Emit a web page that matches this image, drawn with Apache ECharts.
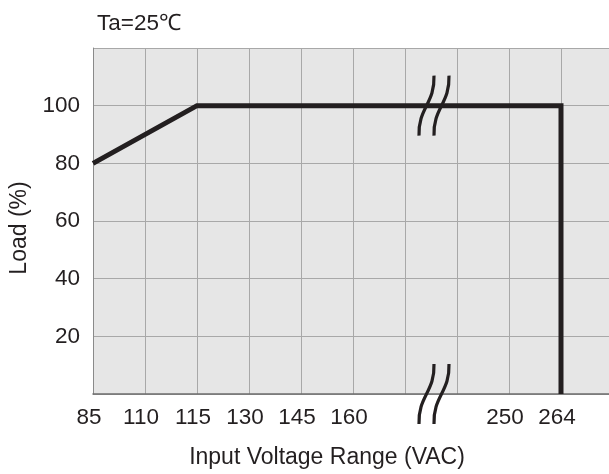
<!DOCTYPE html>
<html><head><meta charset="utf-8">
<script src="https://cdn.jsdelivr.net/npm/echarts@6/dist/echarts.min.js"></script>
<style>html,body{margin:0;padding:0;background:#fff;overflow:hidden}#c{width:613px;height:474px}</style>
</head><body><div id="c"></div>
<script>
const voltageLabels = ['85','110','115','130','145','160','','','250','264',''];
const loadTicks = [20, 40, 60, 80, 100];
const curveVoltage = ['85','115','264','264'];
const curveLoad = [80, 100, 100, 0];
const breakBetween = [6, 7];
const breakLoad = [100, 0];

const chart = echarts.init(document.getElementById('c'), null, {renderer:'canvas'});
const font = 'Liberation Sans, Arial, sans-serif';
const ink = '#231f20';
const fs = 22.5;
chart.setOption({
  animation:false,
  title:{text:'Ta=25℃', left:92, top:7, textStyle:{fontFamily:font, fontSize:fs, fontWeight:'normal', color:ink}},
  grid:{left:93, top:48, right:0, bottom:80, show:true, backgroundColor:'#e6e6e6', borderWidth:0,
        outerBoundsMode:'none', containLabel:false},
  xAxis:{
    type:'category', data:voltageLabels, boundaryGap:false,
    name:'Input Voltage Range (VAC)', nameLocation:'middle', nameGap:52,
    nameTextStyle:{fontFamily:font, fontSize:23, color:ink, padding:[0,52,0,0]},
    axisLine:{lineStyle:{color:'#6d6d6d', width:1.5}},
    axisTick:{show:false},
    axisLabel:{interval:0, margin:12, fontFamily:font, fontSize:fs, color:ink, padding:[0,8,0,0]},
    splitLine:{show:true, interval:0, lineStyle:{color:'#a8a8a8', width:1}}
  },
  yAxis:{
    type:'value', min:0, max:120, interval:20,
    name:'Load (%)', nameLocation:'middle', nameGap:48,
    nameTextStyle:{fontFamily:font, fontSize:23, color:ink, padding:[0,14,0,0]},
    axisLine:{show:true, lineStyle:{color:'#8a8a8a', width:1}},
    axisTick:{show:false},
    axisLabel:{margin:13, fontFamily:font, fontSize:fs, color:ink,
      formatter:v=> loadTicks.includes(v) ? String(v) : ''},
    splitLine:{show:true, lineStyle:{color:'#a8a8a8', width:1}}
  },
  series:[{
    type:'line', symbol:'none', clip:false,
    data: curveVoltage.map((v,i)=>[v, curveLoad[i]]),
    lineStyle:{color:ink, width:5, join:'miter', cap:'butt'}
  }]
});

function addBreaks(){
  const els = [];
  breakLoad.forEach(val=>{
    const a = chart.convertToPixel({gridIndex:0}, [breakBetween[0], val]);
    const b = chart.convertToPixel({gridIndex:0}, [breakBetween[1], val]);
    const cx = (a[0]+b[0])/2 - 2, cy = a[1];
    const h = 30;
    [0, 15].forEach(dx=>{
      const x0 = cx + dx;
      els.push({
        type:'bezierCurve', z:100,
        shape:{x1:x0+5, y1:cy-h, cpx1:x0+6, cpy1:cy-2, cpx2:x0-11, cpy2:cy+2, x2:x0-10, y2:cy+h},
        style:{stroke:ink, lineWidth:3.2, fill:null}
      });
    });
  });
  chart.setOption({graphic:els});
}
addBreaks();
</script></body></html>
